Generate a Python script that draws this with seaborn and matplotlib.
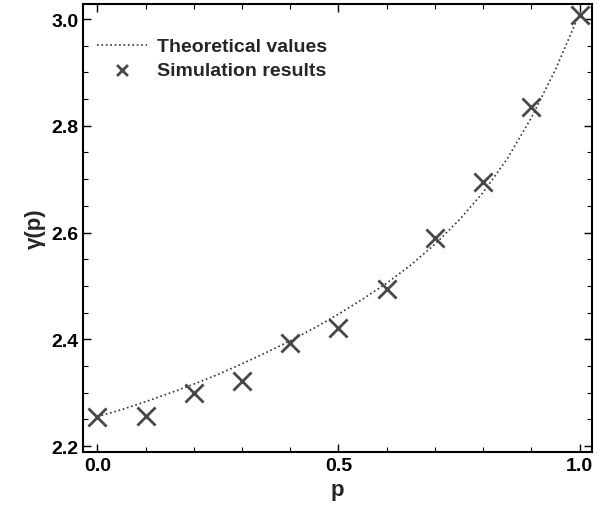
import numpy as np
import pandas as pd
import matplotlib
matplotlib.use('Agg')
import matplotlib.pyplot as plt
import seaborn as sns
from matplotlib.ticker import MultipleLocator, FormatStrFormatter

# 数据
p_theory = [0.0, 0.05, 0.1, 0.15, 0.2, 0.25, 0.3, 0.35, 0.4, 0.45, 0.5,
            0.55, 0.6, 0.65, 0.7, 0.75, 0.8, 0.85, 0.9, 0.95, 1.0]
gamma_theory = [2.255, 2.268, 2.283, 2.299, 2.316, 2.334, 2.354, 2.375, 2.397, 2.421, 2.447,
                2.475, 2.505, 2.539, 2.578, 2.623, 2.675, 2.738, 2.815, 2.905, 3.010]
p_sim = [0.0, 0.1, 0.2, 0.3, 0.4, 0.5, 0.6, 0.7, 0.8, 0.9, 1.0]
gamma_sim = [2.255, 2.257, 2.300, 2.322, 2.393, 2.422, 2.494, 2.590, 2.694, 2.836, 3.008]

sns.set_theme(style='ticks')
plt.rcParams['font.family'] = ['Liberation Sans', 'DejaVu Sans']
plt.rcParams['font.weight'] = 'bold'

fig, ax = plt.subplots(figsize=(6.08, 5.10), dpi=100)
fig.subplots_adjust(left=0.137, right=0.973, bottom=0.112, top=0.99)

sns.lineplot(x=p_theory, y=gamma_theory, ax=ax, color='#333333', linestyle=':',
             linewidth=1.2, label='Theoretical values')
sns.scatterplot(x=p_sim, y=gamma_sim, ax=ax, marker='x', s=170, color='#484848',
                linewidth=2, label='Simulation results', zorder=3)

ax.set_xlim(-0.029, 1.025)
ax.set_ylim(2.189, 3.028)
ax.xaxis.set_major_locator(MultipleLocator(0.5))
ax.xaxis.set_minor_locator(MultipleLocator(0.1))
ax.yaxis.set_major_locator(MultipleLocator(0.2))
ax.yaxis.set_minor_locator(MultipleLocator(0.05))
ax.xaxis.set_major_formatter(FormatStrFormatter('%.1f'))
ax.yaxis.set_major_formatter(FormatStrFormatter('%.1f'))
ax.tick_params(which='both', direction='in', top=True, right=True, colors='black',
               labelsize=14)
ax.tick_params(which='major', length=6, width=1)
ax.tick_params(which='minor', length=3.5, width=0.8)
for s in ax.spines.values():
    s.set_linewidth(1.5)
    s.set_color('black')

ax.set_xlabel('p', fontsize=16, fontweight='bold')
ax.set_ylabel('γ(p)', fontsize=16, fontweight='bold')

leg = ax.legend(loc='upper left', frameon=False, fontsize=14, handlelength=2.6,
                handletextpad=0.5, borderaxespad=0.3, labelspacing=0.3,
                markerscale=0.6, bbox_to_anchor=(0.0, 0.955))
for t in leg.get_texts():
    t.set_fontweight('bold')

fig.savefig('out.png', dpi=100)
